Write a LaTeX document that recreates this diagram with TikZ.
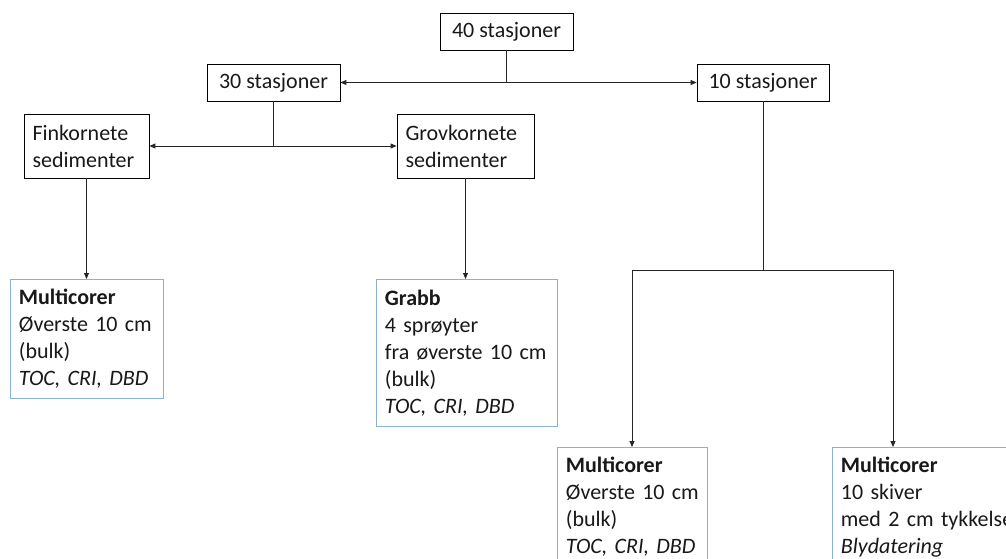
\documentclass[tikz,border=0pt]{standalone}
\usepackage{fontspec}
\setmainfont{Carlito}
\usetikzlibrary{arrows.meta}
\definecolor{bbl}{RGB}{140,178,204}
\definecolor{ink}{RGB}{25,25,25}
\begin{document}
\begin{tikzpicture}[x=1pt,y=-1pt,
  box/.style={draw=black, line width=0.8pt, fill=white, inner xsep=8.5pt, inner ysep=0pt,
    font=\fontsize{22}{27}\selectfont, text=ink},
  bbox/.style={box, draw=bbl, align=left, anchor=north west},
  conn/.style={draw=black!85, line width=0.9pt},
  arr/.style={conn, -{Triangle[length=6pt,width=5pt]}}]
\useasboundingbox (0,0) rectangle (1006,558);
\clip (0,0) rectangle (1006,558);

\node[box, minimum width=133, minimum height=37] (n40) at (506.5,31.5) {40 stasjoner};
\node[box, minimum width=133, minimum height=37] (n30) at (273.5,82.5) {30 stasjoner};
\node[box, minimum width=132, minimum height=37] (n10) at (763,82.5) {10 stasjoner};
\node[box, align=left, text width=108, minimum height=64] (fink) at (86.5,146) {Finkornete\\sedimenter};
\node[box, align=left, text width=120, minimum height=64] (grov) at (465.5,146) {Grovkornete\\sedimenter};

\node[bbox, text width=136, minimum height=119] (m1) at (10,279)
  {\textbf{Multicorer}\\Øverste 10 cm\\(bulk)\\\textit{TOC, CRI, DBD}};
\node[bbox, text width=164, minimum height=147] (m2) at (376,279)
  {\textbf{Grabb}\\4 sprøyter\\fra øverste 10 cm\\(bulk)\\\textit{TOC, CRI, DBD}};
\node[bbox, text width=133, minimum height=119] (m3) at (557,447)
  {\textbf{Multicorer}\\Øverste 10 cm\\(bulk)\\\textit{TOC, CRI, DBD}};
\node[bbox, text width=183, minimum height=119] (m4) at (832,447)
  {\textbf{Multicorer}\\10 skiver\\med 2 cm tykkelse\\\textit{Blydatering}};

% top level
\coordinate (j1) at (n40.south |- n30.east);
\draw[conn] (n40.south) -- (j1);
\draw[arr] (j1) -- (n30.east);
\draw[arr] (j1) -- (n10.west);

% 30 stasjoner split
\coordinate (j2) at (n30.south |- fink.east);
\draw[conn] (n30.south) -- (j2);
\draw[arr] (j2) -- (fink.east);
\draw[arr] (j2) -- (grov.west);

\draw[arr] (fink.south) -- (fink.south |- m1.north);
\draw[arr] (grov.south) -- (grov.south |- m2.north);

% 10 stasjoner split
\coordinate (j3) at (763,270);
\coordinate (c3) at (632,270);
\coordinate (c4) at (893,270);
\draw[conn] (n10.south) -- (j3);
\draw[conn] (c3) -- (c4);
\draw[arr] (c3) -- (c3 |- m3.north);
\draw[arr] (c4) -- (c4 |- m4.north);
\end{tikzpicture}
\end{document}
